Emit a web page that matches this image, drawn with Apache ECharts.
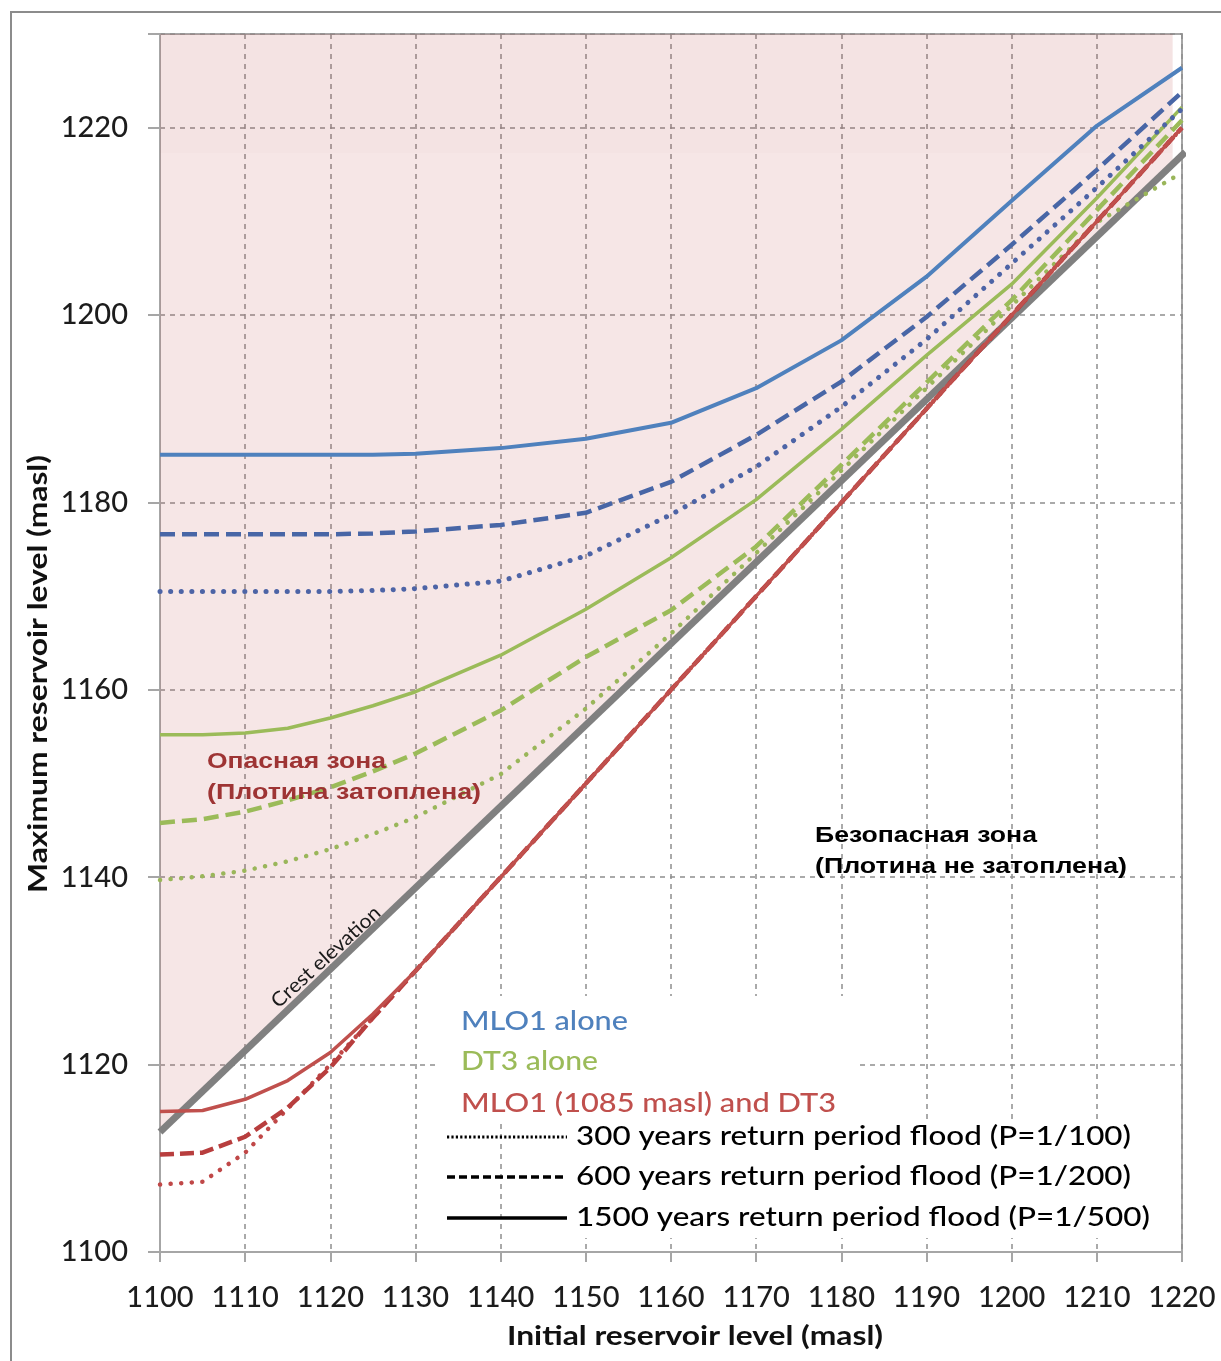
<!DOCTYPE html>
<html>
<head>
<meta charset="utf-8">
<script src="https://cdn.jsdelivr.net/npm/echarts@6/dist/echarts.min.js"></script>
<style>
  html, body { margin: 0; padding: 0; background: #ffffff; }
  #chart { width: 1221px; height: 1361px; }
</style>
</head>
<body>
<div id="chart"></div>
<script>
// Initial reservoir level (masl) at which each flood simulation starts
const initialLevel = [1100, 1105, 1110, 1115, 1120, 1125, 1130, 1140, 1150, 1160, 1170, 1180, 1190, 1200, 1210, 1220];

// Maximum reservoir level (masl) – MLO1 outlet alone
const mlo1P100 = [1170.5, 1170.5, 1170.5, 1170.5, 1170.5, 1170.6, 1170.8, 1171.6, 1174.3, 1178.7, 1183.8, 1190.2, 1197.4, 1205.5, 1213.6, 1222.0];
const mlo1P200 = [1176.6, 1176.6, 1176.6, 1176.6, 1176.6, 1176.7, 1176.9, 1177.6, 1178.9, 1182.2, 1187.2, 1192.9, 1199.8, 1207.5, 1215.5, 1223.8];
const mlo1P500 = [1185.1, 1185.1, 1185.1, 1185.1, 1185.1, 1185.1, 1185.2, 1185.8, 1186.8, 1188.5, 1192.2, 1197.3, 1204.1, 1212.2, 1220.2, 1226.4];

// Maximum reservoir level (masl) – DT3 tunnel alone
const dt3P100 = [1139.7, 1140.1, 1140.7, 1141.7, 1143.0, 1144.6, 1146.4, 1151.0, 1158.0, 1166.0, 1174.6, 1183.4, 1192.2, 1201.0, 1209.9, 1215.2];
const dt3P200 = [1145.8, 1146.2, 1147.0, 1148.2, 1149.6, 1151.3, 1153.2, 1157.8, 1163.5, 1168.5, 1175.3, 1184.0, 1192.8, 1201.6, 1211.2, 1220.8];
const dt3P500 = [1155.2, 1155.2, 1155.4, 1155.9, 1157.0, 1158.3, 1159.8, 1163.7, 1168.6, 1174.1, 1180.3, 1187.8, 1195.7, 1203.3, 1212.5, 1222.2];

// Maximum reservoir level (masl) – MLO1 (1085 masl) together with DT3
const bothP100 = [1107.2, 1107.5, 1110.6, 1115.3, 1120.0, 1125.0, 1130, 1140, 1150, 1160, 1170, 1180, 1190, 1200, 1210, 1220];
const bothP200 = [1110.4, 1110.6, 1112.3, 1115.4, 1119.7, 1125.0, 1130, 1140, 1150, 1160, 1170, 1180, 1190, 1200, 1210, 1220];
const bothP500 = [1115.0, 1115.1, 1116.3, 1118.3, 1121.3, 1125.4, 1130, 1140, 1150, 1160, 1170, 1180, 1190, 1200, 1210, 1220];

// Dam crest elevation line and the edge of the "dam overtopped" zone
const crestLine = [[1100, 1112.8], [1220.4, 1217.4]];
const dangerEdge = [[1100, 1112.8], [1218.9, 1216.5]];
const upperBandEdge = [[1100, 1217.3], [1218.9, 1217.3]];

// Axis ranges and tick steps
const xRange = { min: 1100, max: 1220, step: 10 };
const yRange = { min: 1100, max: 1230, step: 20 };
const yHiddenLabels = [1230];

// Legend texts
const groupNames = ['MLO1 alone', 'DT3 alone', 'MLO1 (1085 masl) and DT3'];
const floodNames = [
  '300 years return period flood (P=1/100)',
  '600 years return period flood (P=1/200)',
  '1500 years return period flood (P=1/500)'
];

const BLUE = '#4F81BD', GREEN = '#9BBB59', RED = '#C0504D';
const DOTS = [0.1, 10.5];
const DASH = [15, 7];

const chart = echarts.init(document.getElementById('chart'), null, { renderer: 'canvas' });

const pairs = ys => initialLevel.map((x, i) => [x, ys[i]]);

function curve(name, ys, color, dash, width, z) {
  return {
    name, type: 'line', data: pairs(ys), symbol: 'none', smooth: false,
    silent: true, z,
    lineStyle: { color, width, type: dash || 'solid', cap: dash === DOTS ? 'round' : 'butt' }
  };
}

// Horizontal scale that makes a text line span a given width
const measureCtx = document.createElement('canvas').getContext('2d');
function fitScale(text, font, width) {
  measureCtx.font = font;
  return width / measureCtx.measureText(text).width;
}

function label(text, x, y, font, width, color, opts) {
  opts = opts || {};
  const s = width ? fitScale(text, font, width) : 1;
  return Object.assign({
    type: 'text', x, y, scaleX: s, scaleY: 1, z: 100, silent: true,
    style: {
      text, font, fill: color || '#000',
      align: opts.align || 'left', verticalAlign: 'middle',
      textAlign: opts.align || 'left', textVerticalAlign: 'middle'
    }
  }, opts.extra || {});
}

function whiteBox(x, y, w, h) {
  return { type: 'rect', z: 90, silent: true, shape: { x, y, width: w, height: h },
    style: { fill: '#ffffff', stroke: 'none' } };
}

const LEG_FONT = '500 26px Lato';
const ZONE_FONT = 'bold 22px "Liberation Sans"';
const TITLE_FONT = 'bold 27px Lato';
const TICK_FONT = { fontFamily: 'Lato', fontWeight: 500, fontSize: 29, color: '#1c1c1c' };

function sample(y, dash, w) {
  return {
    type: 'line', z: 100, silent: true,
    shape: { x1: 447, y1: y, x2: 567, y2: y },
    style: { stroke: '#000', lineWidth: w, lineDash: dash, lineCap: 'butt' }
  };
}

const option = {
  animation: false,
  backgroundColor: '#ffffff',
  grid: {
    left: 160, right: 39, top: 34, bottom: 109,
    show: true, borderColor: '#a6a6a6', borderWidth: 2, backgroundColor: 'transparent',
    containLabel: false, outerBoundsMode: 'none'
  },
  xAxis: {
    type: 'value', min: xRange.min, max: xRange.max, interval: xRange.step,
    axisLine: { show: true, lineStyle: { color: '#a6a6a6', width: 2 } },
    axisTick: { show: true, inside: false, length: 10, lineStyle: { color: '#a6a6a6', width: 2 } },
    axisLabel: Object.assign({ show: true, margin: 31, formatter: v => String(v) }, TICK_FONT),
    splitLine: { show: true, lineStyle: { color: '#8f8f8f', width: 1.5, type: [5, 5] } }
  },
  yAxis: {
    type: 'value', min: yRange.min, max: yRange.max, interval: yRange.step,
    axisLine: { show: true, lineStyle: { color: '#a6a6a6', width: 2 } },
    axisTick: { show: true, inside: false, length: 12, lineStyle: { color: '#a6a6a6', width: 2 } },
    axisLabel: Object.assign({
      show: true, margin: 32,
      formatter: v => (yHiddenLabels.indexOf(v) >= 0 ? '' : String(v))
    }, TICK_FONT),
    splitLine: { show: true, lineStyle: { color: '#8f8f8f', width: 1.5, type: [5, 5] } }
  },
  series: [
    {
      name: 'danger zone', type: 'line', data: dangerEdge, symbol: 'none', silent: true, z: 1,
      lineStyle: { width: 0 }, areaStyle: { origin: 'end', color: 'rgba(192,80,77,0.2)' }
    },
    {
      name: 'upper band', type: 'line', data: upperBandEdge, symbol: 'none', silent: true, z: 1,
      lineStyle: { width: 0 }, areaStyle: { origin: 'end', color: 'rgba(140,60,60,0.025)' }
    },
    {
      name: 'Crest elevation', type: 'line', data: crestLine, symbol: 'none', silent: true, z: 3,
      clip: false, lineStyle: { color: '#808080', width: 7, cap: 'butt' }
    },
    curve('DT3 P=1/100', dt3P100, '#9AB65A', DOTS, 4.5, 4),
    curve('DT3 P=1/200', dt3P200, GREEN, DASH, 4.5, 4),
    curve('DT3 P=1/500', dt3P500, GREEN, null, 3.5, 4),
    curve('MLO1 P=1/100', mlo1P100, '#4D64A6', DOTS, 5, 5),
    curve('MLO1 P=1/200', mlo1P200, '#4866A6', DASH, 4.5, 5),
    curve('MLO1 P=1/500', mlo1P500, BLUE, null, 4, 5),
    curve('MLO1+DT3 P=1/100', bothP100, '#C04848', DOTS, 4.5, 6),
    curve('MLO1+DT3 P=1/200', bothP200, '#B83E3E', [14, 6], 4.5, 6),
    curve('MLO1+DT3 P=1/500', bothP500, RED, null, 3.5, 7)
  ],
  graphic: [
    // outer frame
    { type: 'rect', z: 0, silent: true, shape: { x: 11, y: 12, width: 1400, height: 1400 },
      style: { fill: 'none', stroke: '#8c8c8c', lineWidth: 2 } },
    // axis titles
    label('Maximum reservoir level (masl)', 38, 674, TITLE_FONT, 438, '#111',
      { align: 'center', extra: { rotation: Math.PI / 2 } }),
    label('Initial reservoir level (masl)', 695, 1336, TITLE_FONT, 376, '#111', { align: 'center' }),
    // zone notes
    label('Опасная зона', 207, 762, ZONE_FONT, 179, '#9E3434'),
    label('(Плотина затоплена)', 207, 793, ZONE_FONT, 274, '#9E3434'),
    label('Безопасная зона', 815, 836, ZONE_FONT, 222, '#000'),
    label('(Плотина не затоплена)', 815, 867, ZONE_FONT, 312, '#000'),
    // crest label along the line
    label('Crest elevation', 326, 957, '400 20px Lato', 140, '#1a1a1a',
      { align: 'center', extra: { rotation: Math.atan2(93, 102) } }),
    // legend backgrounds
    whiteBox(440, 996, 420, 128),
    whiteBox(572, 1120, 592, 118),
    // colour legend
    label(groupNames[0], 461, 1022, LEG_FONT, 167, BLUE),
    label(groupNames[1], 461, 1062, LEG_FONT, 137, GREEN),
    label(groupNames[2], 461, 1104, LEG_FONT, 375, RED),
    // line style legend
    sample(1137, [2.2, 2.2], 3),
    sample(1177, [8, 4], 3.5),
    sample(1218, null, 3.5),
    label(floodNames[0], 576, 1137, LEG_FONT, 555, '#000'),
    label(floodNames[1], 576, 1177, LEG_FONT, 555, '#000'),
    label(floodNames[2], 576, 1218, LEG_FONT, 574, '#000')
  ]
};

chart.setOption(option);
</script>
</body>
</html>
